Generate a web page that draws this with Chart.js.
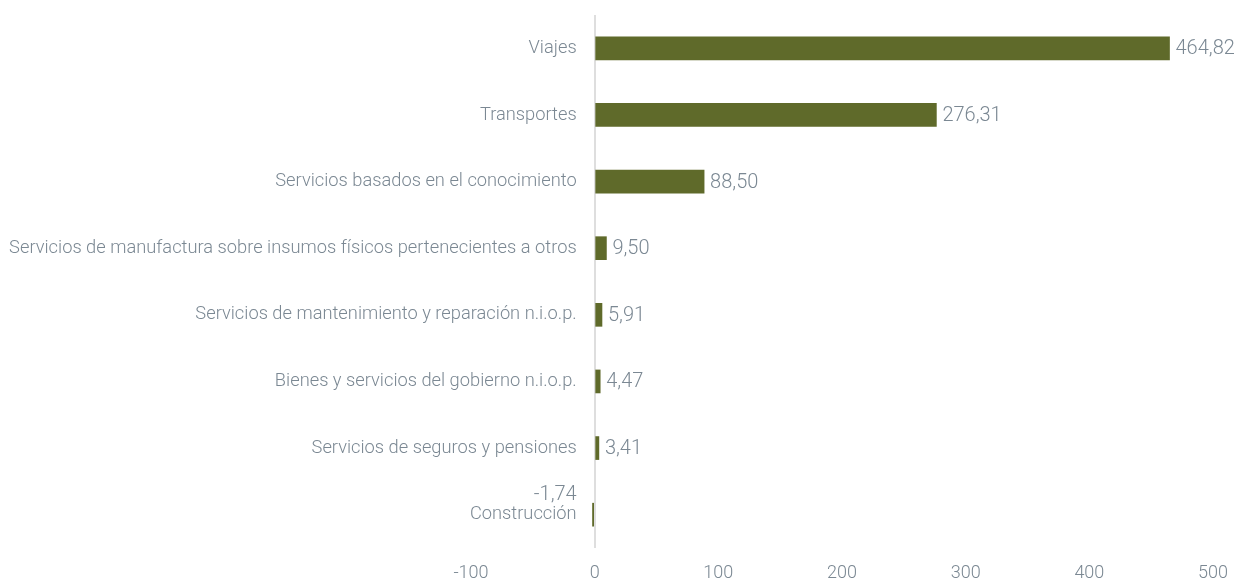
<!DOCTYPE html>
<html><head><meta charset="utf-8">
<script src="https://cdn.jsdelivr.net/npm/chart.js@4/dist/chart.umd.min.js"></script>
<style>html,body{margin:0;padding:0;background:#fff}#wrap{width:1243px;height:580px}</style>
</head><body><div id="wrap"><canvas id="c" width="1243" height="580"></canvas></div>
<script>
const categories = ["Viajes","Transportes","Servicios basados en el conocimiento","Servicios de manufactura sobre insumos físicos pertenecientes a otros","Servicios de mantenimiento y reparación n.i.o.p.","Bienes y servicios del gobierno n.i.o.p.","Servicios de seguros y pensiones","Construcción"];
const values = [464.82,276.31,88.50,9.50,5.91,4.47,3.41,-1.74];
const xTicks = [-100,0,100,200,300,400,500];
const TXT = "#7b8893";
const FONT = "Roboto, 'Open Sans', sans-serif";
const fmt = v => v.toFixed(2).replace('.', ',');

const labelPlugin = {
  id:'labels',
  afterDatasetsDraw(chart){
    const ctx = chart.ctx, xs = chart.scales.x, ys = chart.scales.y;
    const x0 = xs.getPixelForValue(0);
    ctx.save();
    ctx.fillStyle = TXT;
    categories.forEach((c,i)=>{
      const y = ys.getPixelForValue(i);
      ctx.font = "300 18.3px " + FONT;
      ctx.textAlign='right'; ctx.textBaseline='middle';
      ctx.fillText(c, x0-18, y);
      const v = values[i];
      const xe = xs.getPixelForValue(v);
      ctx.font = "300 20px " + FONT;
      if (v >= 0){
        ctx.textAlign='left';
        ctx.fillText(fmt(v), xe+6, y+1);
      } else {
        ctx.textAlign='right';
        ctx.fillText(fmt(v), x0-18, y-20);
      }
    });
    ctx.restore();
  }
};

new Chart(document.getElementById('c'), {
  type:'bar',
  data:{labels:categories, datasets:[{data:values, backgroundColor:'#5f6a2a', barThickness:23}]},
  options:{
    indexAxis:'y', responsive:false, animation:false,
    layout:{padding:{left:471, right:28, top:15, bottom:0}},
    plugins:{legend:{display:false}, tooltip:{enabled:false}},
    scales:{
      x:{min:-100,max:500,
        afterBuildTicks(s){ s.ticks = xTicks.map(v=>({value:v})); },
        afterFit(s){ s.height = 32; },
        border:{display:false},
        grid:{drawTicks:false, lineWidth:2, color:ctx=> ctx.tick && ctx.tick.value===0 ? '#dedede' : 'rgba(0,0,0,0)'},
        ticks:{color:TXT, padding:15, font:{family:FONT, size:18, weight:300}}
      },
      y:{display:false}
    }
  },
  plugins:[labelPlugin]
});
</script></body></html>
